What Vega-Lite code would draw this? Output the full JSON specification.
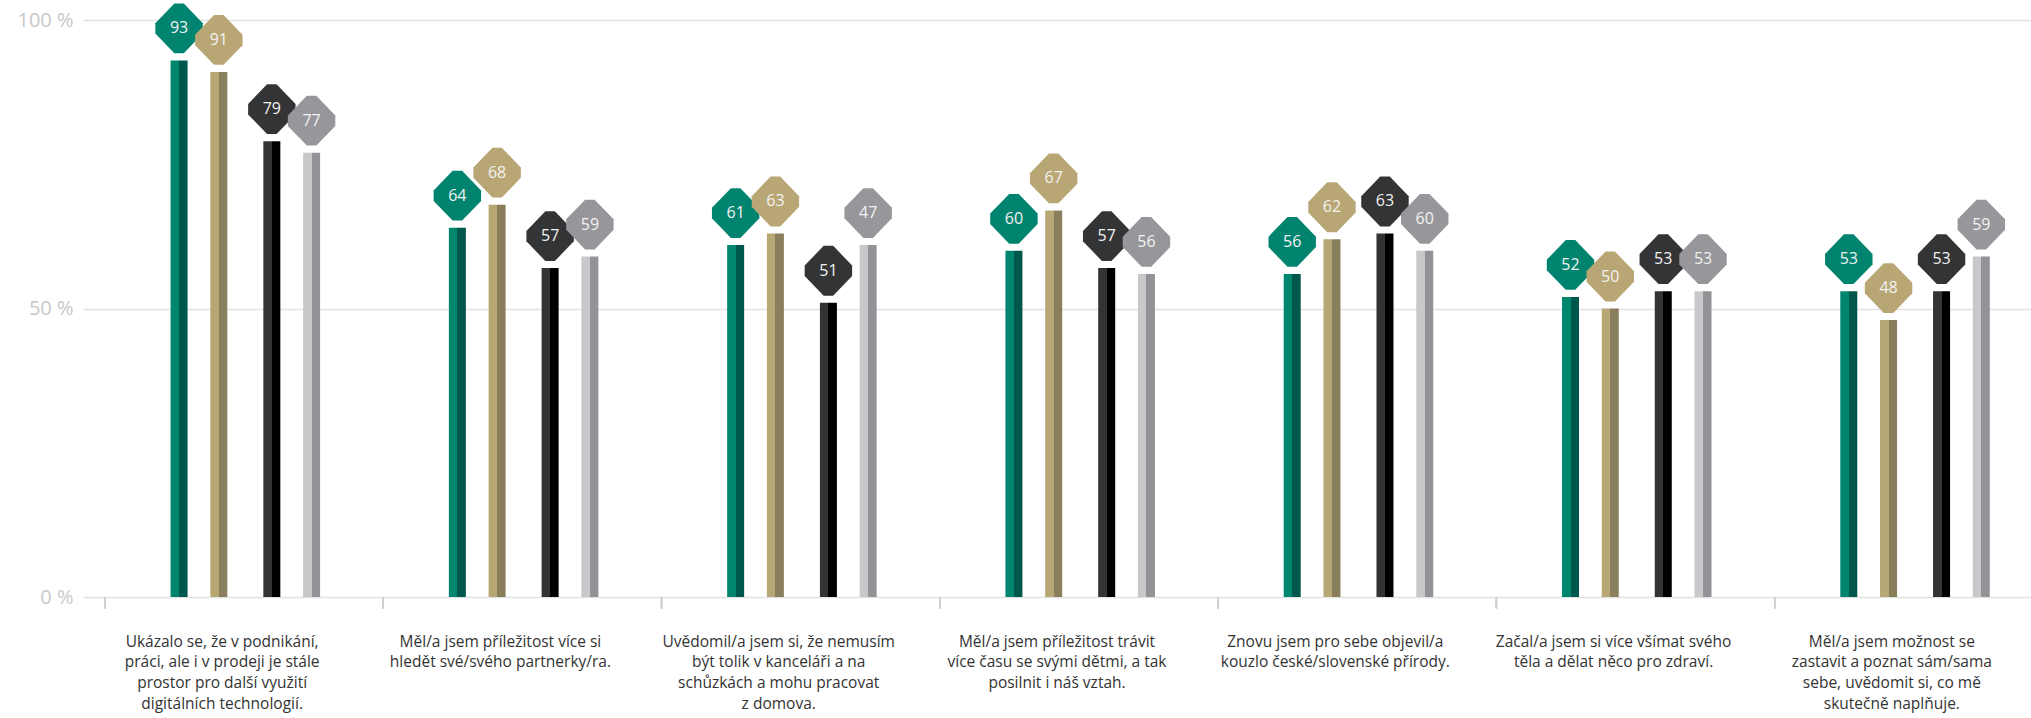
{
  "$schema": "https://vega.github.io/schema/vega-lite/v6.json",
  "autosize": {"type": "none"},
  "width": 1948,
  "height": 577,
  "padding": {"left": 83, "top": 20, "right": 0, "bottom": 121},
  "background": "white",
  "config": {"view": {"stroke": null}, "font": "Open Sans"},
  "data": {
    "values": [
      {"cat": "Ukázalo se, že v podnikání,\npráci, ale i v prodeji je stále\nprostor pro další využití\ndigitálních technologií.", "series": "1", "value": 93, "label": 93},
      {"cat": "Ukázalo se, že v podnikání,\npráci, ale i v prodeji je stále\nprostor pro další využití\ndigitálních technologií.", "series": "2", "value": 91, "label": 91},
      {"cat": "Ukázalo se, že v podnikání,\npráci, ale i v prodeji je stále\nprostor pro další využití\ndigitálních technologií.", "series": "3", "value": 79, "label": 79},
      {"cat": "Ukázalo se, že v podnikání,\npráci, ale i v prodeji je stále\nprostor pro další využití\ndigitálních technologií.", "series": "4", "value": 77, "label": 77},
      {"cat": "Měl/a jsem příležitost více si\nhledět své/svého partnerky/ra.", "series": "1", "value": 64, "label": 64},
      {"cat": "Měl/a jsem příležitost více si\nhledět své/svého partnerky/ra.", "series": "2", "value": 68, "label": 68},
      {"cat": "Měl/a jsem příležitost více si\nhledět své/svého partnerky/ra.", "series": "3", "value": 57, "label": 57},
      {"cat": "Měl/a jsem příležitost více si\nhledět své/svého partnerky/ra.", "series": "4", "value": 59, "label": 59},
      {"cat": "Uvědomil/a jsem si, že nemusím\nbýt tolik v kanceláři a na\nschůzkách a mohu pracovat\nz domova.", "series": "1", "value": 61, "label": 61},
      {"cat": "Uvědomil/a jsem si, že nemusím\nbýt tolik v kanceláři a na\nschůzkách a mohu pracovat\nz domova.", "series": "2", "value": 63, "label": 63},
      {"cat": "Uvědomil/a jsem si, že nemusím\nbýt tolik v kanceláři a na\nschůzkách a mohu pracovat\nz domova.", "series": "3", "value": 51, "label": 51},
      {"cat": "Uvědomil/a jsem si, že nemusím\nbýt tolik v kanceláři a na\nschůzkách a mohu pracovat\nz domova.", "series": "4", "value": 61, "label": 47},
      {"cat": "Měl/a jsem příležitost trávit\nvíce času se svými dětmi, a tak\nposilnit i náš vztah.", "series": "1", "value": 60, "label": 60},
      {"cat": "Měl/a jsem příležitost trávit\nvíce času se svými dětmi, a tak\nposilnit i náš vztah.", "series": "2", "value": 67, "label": 67},
      {"cat": "Měl/a jsem příležitost trávit\nvíce času se svými dětmi, a tak\nposilnit i náš vztah.", "series": "3", "value": 57, "label": 57},
      {"cat": "Měl/a jsem příležitost trávit\nvíce času se svými dětmi, a tak\nposilnit i náš vztah.", "series": "4", "value": 56, "label": 56},
      {"cat": "Znovu jsem pro sebe objevil/a\nkouzlo české/slovenské přírody.", "series": "1", "value": 56, "label": 56},
      {"cat": "Znovu jsem pro sebe objevil/a\nkouzlo české/slovenské přírody.", "series": "2", "value": 62, "label": 62},
      {"cat": "Znovu jsem pro sebe objevil/a\nkouzlo české/slovenské přírody.", "series": "3", "value": 63, "label": 63},
      {"cat": "Znovu jsem pro sebe objevil/a\nkouzlo české/slovenské přírody.", "series": "4", "value": 60, "label": 60},
      {"cat": "Začal/a jsem si více všímat svého\ntěla a dělat něco pro zdraví.", "series": "1", "value": 52, "label": 52},
      {"cat": "Začal/a jsem si více všímat svého\ntěla a dělat něco pro zdraví.", "series": "2", "value": 50, "label": 50},
      {"cat": "Začal/a jsem si více všímat svého\ntěla a dělat něco pro zdraví.", "series": "3", "value": 53, "label": 53},
      {"cat": "Začal/a jsem si více všímat svého\ntěla a dělat něco pro zdraví.", "series": "4", "value": 53, "label": 53},
      {"cat": "Měl/a jsem možnost se\nzastavit a poznat sám/sama\nsebe, uvědomit si, co mě\nskutečně naplňuje.", "series": "1", "value": 53, "label": 53},
      {"cat": "Měl/a jsem možnost se\nzastavit a poznat sám/sama\nsebe, uvědomit si, co mě\nskutečně naplňuje.", "series": "2", "value": 48, "label": 48},
      {"cat": "Měl/a jsem možnost se\nzastavit a poznat sám/sama\nsebe, uvědomit si, co mě\nskutečně naplňuje.", "series": "3", "value": 53, "label": 53},
      {"cat": "Měl/a jsem možnost se\nzastavit a poznat sám/sama\nsebe, uvědomit si, co mě\nskutečně naplňuje.", "series": "4", "value": 59, "label": 59}
    ]
  },
  "layer": [
    {
      "transform": [{"filter": "datum.series == '1'"}],
      "mark": {"type": "bar", "width": 17, "color": {"gradient": "linear", "x1": 0, "y1": 0, "x2": 1, "y2": 0, "stops": [{"offset": 0, "color": "#00866f"}, {"offset": 0.5, "color": "#00866f"}, {"offset": 0.5, "color": "#00574b"}, {"offset": 1, "color": "#00574b"}]}},
      "encoding": {
        "x": {"field": "cat", "type": "nominal", "sort": null, "title": null,
          "scale": {"type": "band", "paddingInner": 0, "paddingOuter": 0},
          "axis": {"labelExpr": "split(datum.label, '\\n')", "labelAngle": 0, "ticks": false, "domain": false, "bandPosition": 0.58, "labelPadding": 37, "labelColor": "#333333", "labelFontSize": 15.5, "labelLineHeight": 20.7, "labelLimit": 0, "labelOverlap": false, "labelFont": "Open Sans"}},
        "xOffset": {"field": "series", "type": "nominal", "scale": {"domain": ["p0","p1","p2","p3","p4","p5","p6","p7","p8","p9","p10","p11","p12","p13","1","p15","p16","p17","p18","p19","2","p21","p22","p23","p24","p25","p26","p27","3","p29","p30","p31","p32","p33","4","p35","p36","p37","p38","p39","p40","p41"], "paddingInner": 0, "paddingOuter": 0}},
        "y": {"field": "value", "type": "quantitative", "title": null,
          "scale": {"domain": [0, 100], "nice": false},
          "axis": {"values": [0, 50, 100], "labelExpr": "datum.value + ' %'", "grid": true, "gridColor": "#e2e2e2", "gridWidth": 1.5, "domain": false, "ticks": false, "labelPadding": 10, "labelColor": "#c8c8c8", "labelFontSize": 20, "labelFont": "Open Sans"}}
      }
    },
    {
      "transform": [{"filter": "datum.series == '2'"}],
      "mark": {"type": "bar", "width": 17, "color": {"gradient": "linear", "x1": 0, "y1": 0, "x2": 1, "y2": 0, "stops": [{"offset": 0, "color": "#b7a774"}, {"offset": 0.5, "color": "#b7a774"}, {"offset": 0.5, "color": "#8a7f5d"}, {"offset": 1, "color": "#8a7f5d"}]}},
      "encoding": {
        "x": {"field": "cat", "type": "nominal", "sort": null},
        "xOffset": {"field": "series", "type": "nominal"},
        "y": {"field": "value", "type": "quantitative"}
      }
    },
    {
      "transform": [{"filter": "datum.series == '3'"}],
      "mark": {"type": "bar", "width": 17, "color": {"gradient": "linear", "x1": 0, "y1": 0, "x2": 1, "y2": 0, "stops": [{"offset": 0, "color": "#333333"}, {"offset": 0.5, "color": "#333333"}, {"offset": 0.5, "color": "#000000"}, {"offset": 1, "color": "#000000"}]}},
      "encoding": {
        "x": {"field": "cat", "type": "nominal", "sort": null},
        "xOffset": {"field": "series", "type": "nominal"},
        "y": {"field": "value", "type": "quantitative"}
      }
    },
    {
      "transform": [{"filter": "datum.series == '4'"}],
      "mark": {"type": "bar", "width": 17, "color": {"gradient": "linear", "x1": 0, "y1": 0, "x2": 1, "y2": 0, "stops": [{"offset": 0, "color": "#c8c8ca"}, {"offset": 0.5, "color": "#c8c8ca"}, {"offset": 0.5, "color": "#939397"}, {"offset": 1, "color": "#939397"}]}},
      "encoding": {
        "x": {"field": "cat", "type": "nominal", "sort": null},
        "xOffset": {"field": "series", "type": "nominal"},
        "y": {"field": "value", "type": "quantitative"}
      }
    },
    {
      "mark": {"type": "rule", "color": "#d0d0d0", "strokeWidth": 1.5},
      "encoding": {
        "x": {"field": "cat", "type": "nominal", "sort": null, "bandPosition": 0.079},
        "y": {"datum": 0},
        "y2": {"datum": -2}
      }
    },
    {
      "mark": {"type": "point", "filled": true, "opacity": 1, "size": 2250, "shape": "M -0.2 -1.05 L 0.2 -1.05 L 1 -0.22 L 1 0.22 L 0.2 1.05 L -0.2 1.05 L -1 0.22 L -1 -0.22 Z", "yOffset": -32},
      "encoding": {
        "x": {"field": "cat", "type": "nominal", "sort": null},
        "xOffset": {"field": "series", "type": "nominal"},
        "y": {"field": "value", "type": "quantitative"},
        "color": {"field": "series", "type": "nominal", "legend": null, "scale": {"domain": ["1", "2", "3", "4"], "range": ["#00846f", "#b8a774", "#333436", "#97979b"]}}
      }
    },
    {
      "mark": {"type": "text", "color": "#f2f2f2", "fontSize": 16, "font": "Open Sans", "baseline": "middle", "align": "center", "yOffset": -32},
      "encoding": {
        "x": {"field": "cat", "type": "nominal", "sort": null},
        "xOffset": {"field": "series", "type": "nominal"},
        "y": {"field": "value", "type": "quantitative"},
        "text": {"field": "label", "type": "quantitative"}
      }
    }
  ]
}
